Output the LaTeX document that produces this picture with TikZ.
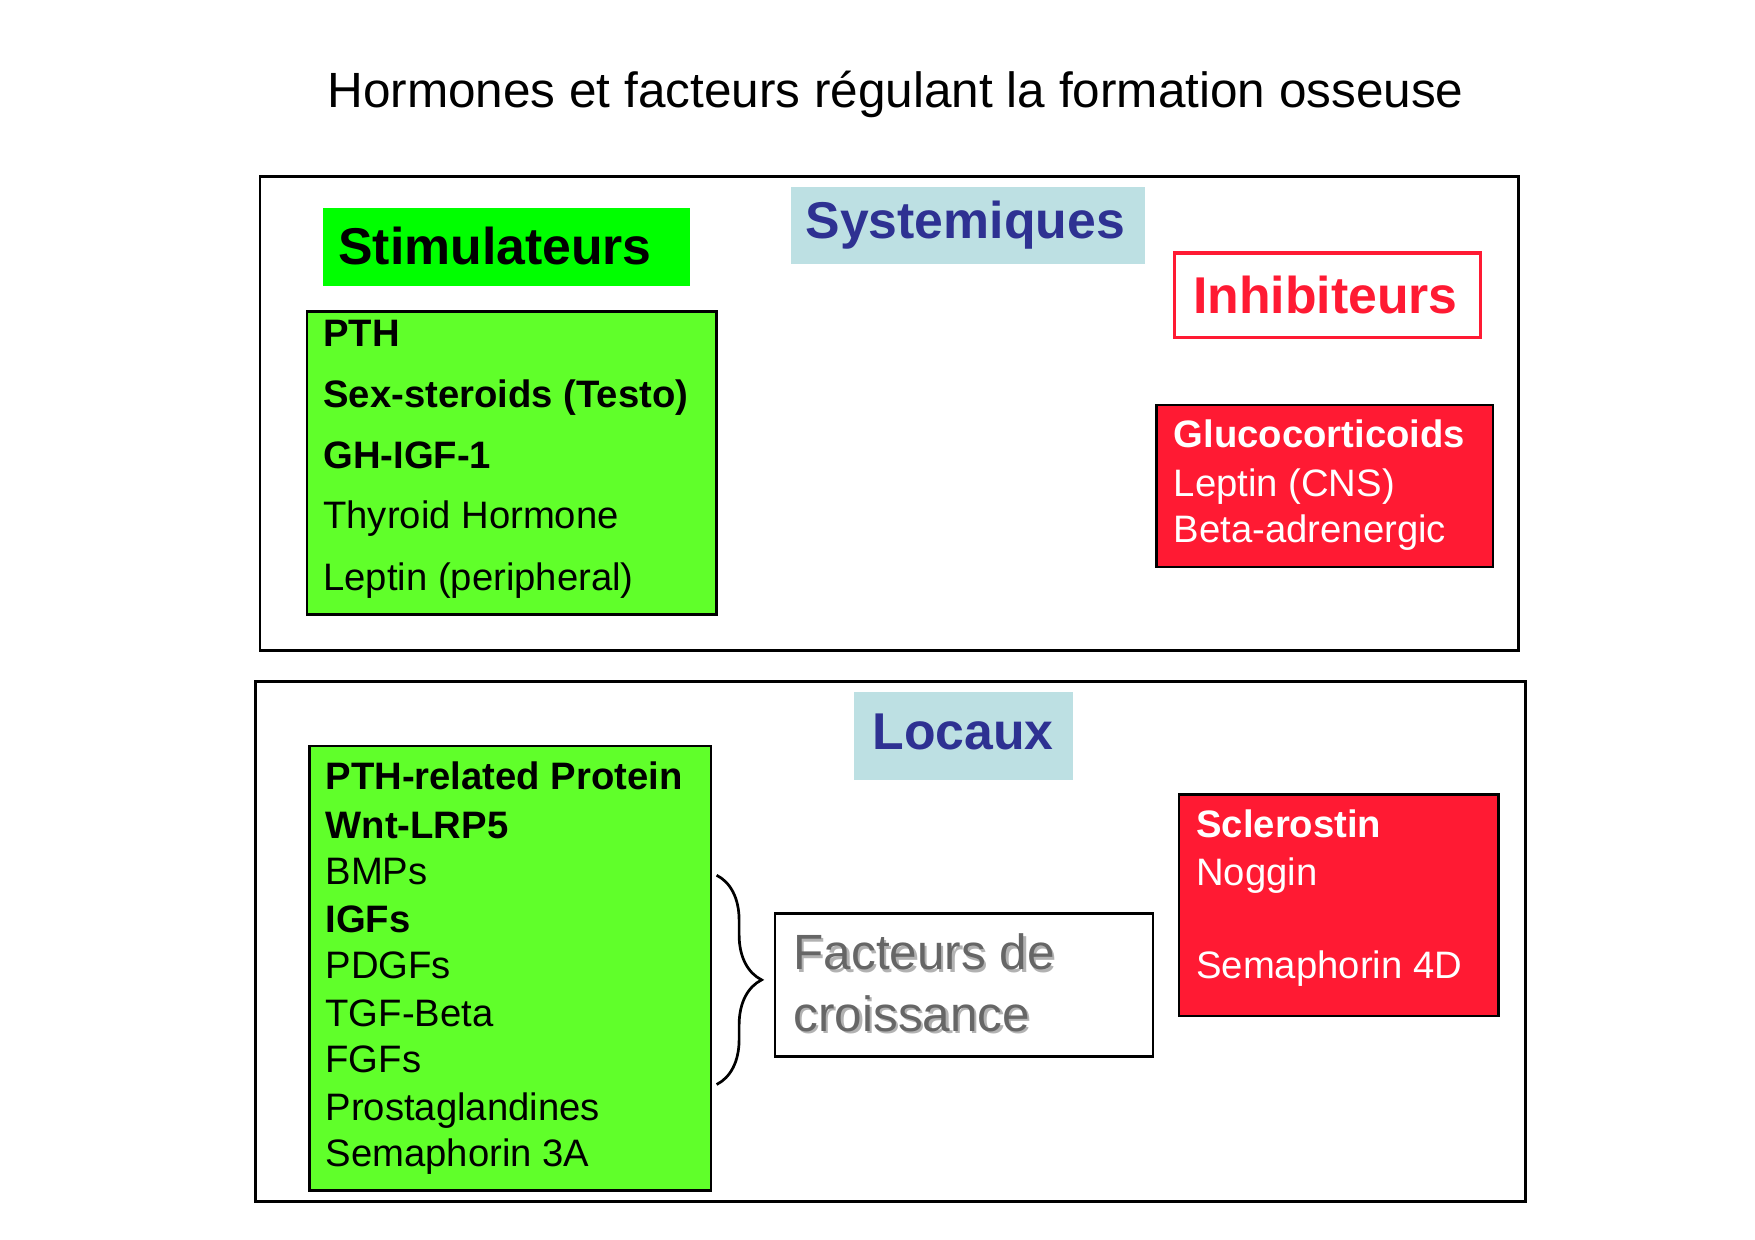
\documentclass[tikz,border=0pt]{standalone}
\usepackage{fontspec}
\setmainfont{Liberation Sans}
\usetikzlibrary{decorations.pathreplacing}
\definecolor{stimgreen}{RGB}{0,255,0}
\definecolor{listgreen}{RGB}{96,255,42}
\definecolor{inhred}{RGB}{255,26,51}
\definecolor{headblue}{RGB}{189,224,227}
\definecolor{headtext}{RGB}{46,49,146}
\tikzset{
  frame/.style={draw=black,line width=1.2pt},
  item/.style={anchor=base west,inner sep=0pt,font=\fontsize{17}{20}\selectfont},
  bitem/.style={item,font=\fontsize{17}{20}\selectfont\bfseries},
  head/.style={anchor=center,inner sep=0pt,font=\fontsize{23}{26}\selectfont\bfseries}
}
\begin{document}
\begin{tikzpicture}[x=0.5pt,y=0.5pt,yscale=-1]
\useasboundingbox (0,0) rectangle (1560,1102);
\node[anchor=center,inner sep=0pt,font=\fontsize{22}{26}\selectfont] (title) at (796,84)
  {Hormones et facteurs régulant la formation osseuse};
% systemic part
\path[frame] (231,157) rectangle (1350,578);
\path[fill=stimgreen] (287,185) rectangle (613,254);
\node[head] (stim) at (440,219) {Stimulateurs};
\path[fill=headblue] (703,166) rectangle (1018,235);
\node[head,text=headtext] (syst) at (858,200) {Systemiques};
\path[draw=inhred,line width=1.5pt] (1044,225) rectangle (1316,300);
\node[head,text=inhred] (inhib) at (1178,262) {Inhibiteurs};
\path[frame,fill=listgreen] (273,277) rectangle (637,546);
\node[bitem] (pth) at (287,308) {PTH};
\node[bitem] (sex) at (287,362) {Sex-steroids (Testo)};
\node[bitem] (gh) at (287,416) {GH-IGF-1};
\node[item] (thy) at (287,470) {Thyroid Hormone};
\node[item] (lepp) at (287,525) {Leptin (peripheral)};
\path[frame,fill=inhred] (1028,360) rectangle (1327,504);
\node[bitem,text=white] (gluco) at (1043,398) {Glucocorticoids};
\node[item,text=white] (lepc) at (1043,441) {Leptin (CNS)};
\node[item,text=white] (beta) at (1043,482) {Beta-adrenergic};
% local part
\path[frame] (227,606) rectangle (1356,1068);
\path[fill=headblue] (759,615) rectangle (954,693);
\node[head,text=headtext] (loc) at (856,651) {Locaux};
\path[frame,fill=listgreen] (275,663) rectangle (632,1058);
\node[bitem] (pthrp) at (289,702) {PTH-related Protein};
\node[bitem] (wnt) at (289,745) {Wnt-LRP5};
\node[item] (bmp) at (289,786) {BMPs};
\node[bitem] (igf) at (289,829) {IGFs};
\node[item] (pdgf) at (289,870) {PDGFs};
\node[item] (tgf) at (289,912) {TGF-Beta};
\node[item] (fgf) at (289,953) {FGFs};
\node[item] (prosta) at (289,996) {Prostaglandines};
\node[item] (sema3) at (289,1037) {Semaphorin 3A};
\coordinate (bracetop) at (637,778);
\coordinate (bracebot) at (637,964);
\draw[line width=1.2pt,decorate,decoration={brace,amplitude=20pt}]
  (bracetop) -- (bracebot);
\path[frame] (689,812) rectangle (1025,939);
\foreach \ypos/\txt/\nm in {862/Facteurs de/fac1,917/croissance/fac2}{
  \node[item,font=\fontsize{22}{26}\selectfont,text=black!30] at (707,\ypos+2) {\txt};
  \node[item,font=\fontsize{22}{26}\selectfont,text=black!60] (\nm) at (705,\ypos) {\txt};
}
\path[frame,fill=inhred] (1048,706) rectangle (1332,903);
\node[bitem,text=white] (scler) at (1063,744) {Sclerostin};
\node[item,text=white] (nog) at (1063,787) {Noggin};
\node[item,text=white] (sema4) at (1063,870) {Semaphorin 4D};
\end{tikzpicture}
\end{document}
